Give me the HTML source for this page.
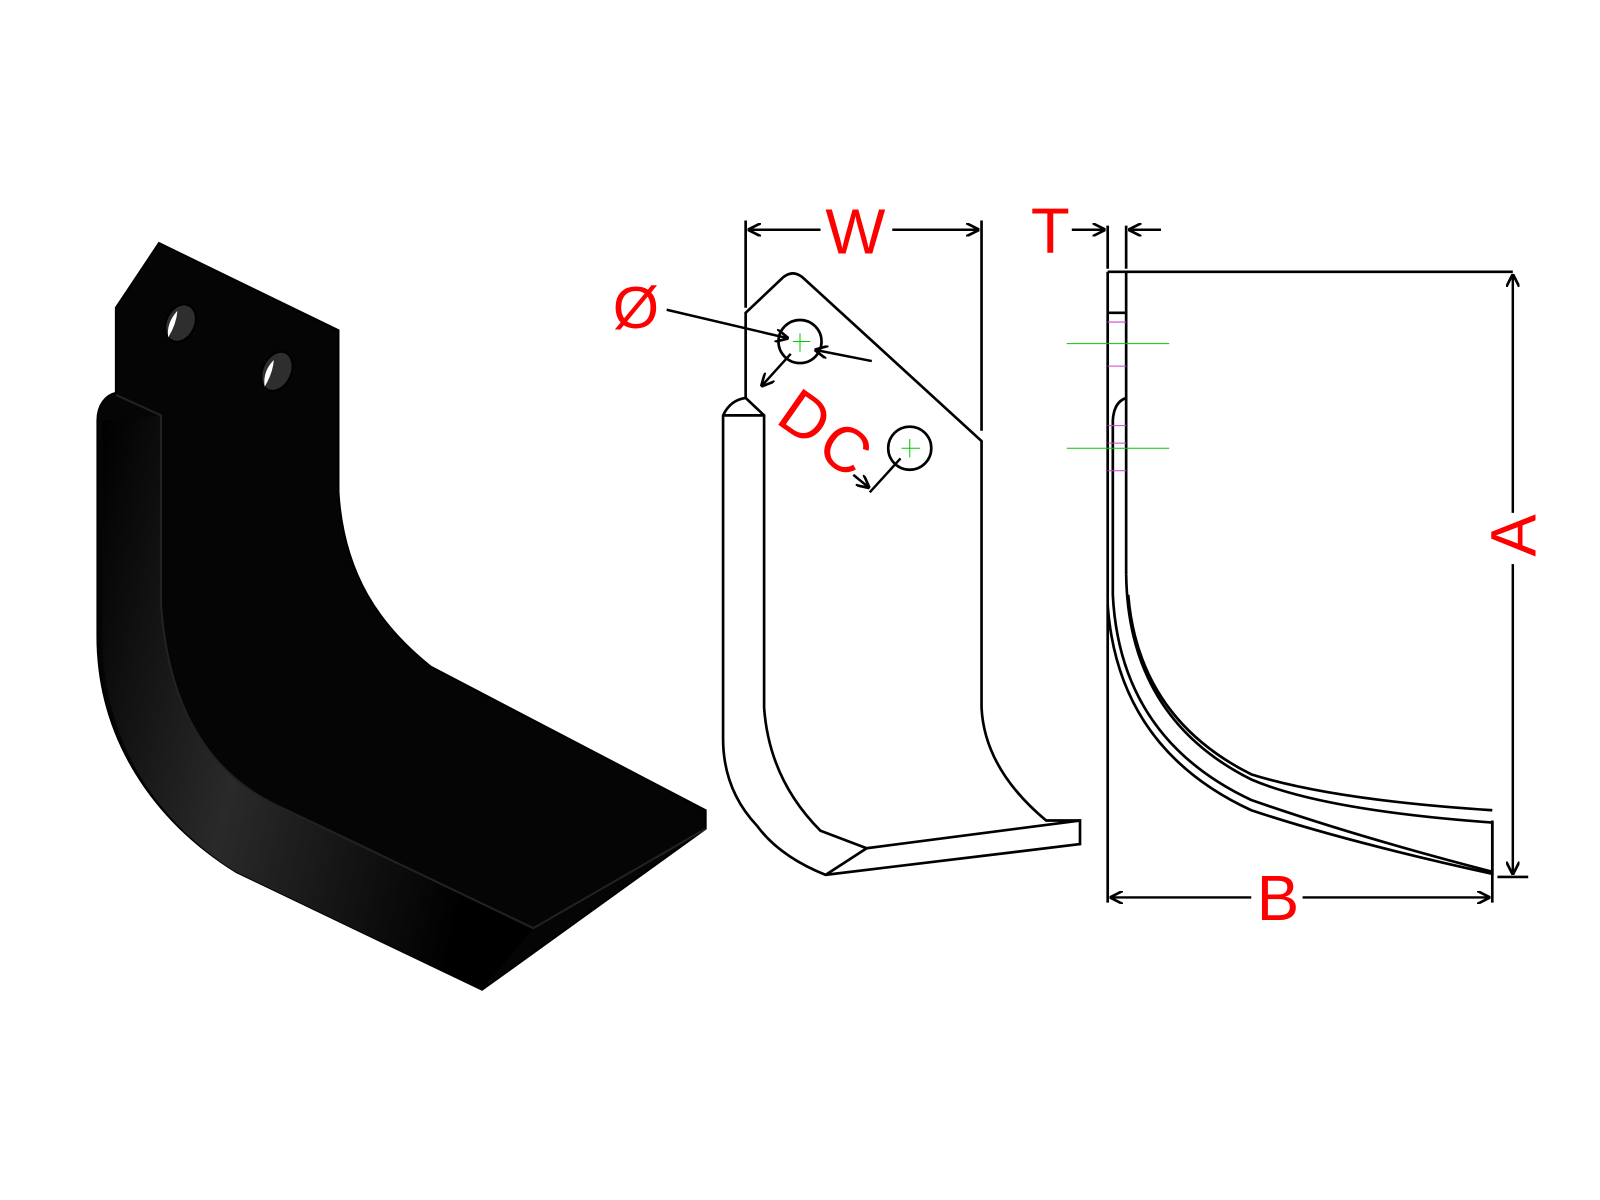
<!DOCTYPE html>
<html><head><meta charset="utf-8"><style>html,body{margin:0;padding:0;background:#fff}svg{display:block}</style></head>
<body>
<svg width="1600" height="1200" viewBox="0 0 1560 1170" xmlns="http://www.w3.org/2000/svg">
<defs>
<linearGradient id="g1" x1="0" y1="0" x2="1" y2="0.3">
<stop offset="0" stop-color="#000"/><stop offset="0.45" stop-color="#2a2a2a"/><stop offset="1" stop-color="#000"/></linearGradient>
<marker id="ar" viewBox="0 0 10 10" refX="10" refY="5" markerWidth="13" markerHeight="13" orient="auto-start-reverse" markerUnits="userSpaceOnUse"><path d="M0,0 L10,5 L0,10" fill="none" stroke="#000" stroke-width="2"/></marker>
</defs>
<!-- black blade -->
<path d="M155,237 L330,322 L330,480 C335,560 370,610 420,650 L688,790 L688,808 L470,965 L230,850 C150,800 95,720 95,620 L95,410 C95,395 103,385 113,383 L113,300 Z" fill="#050505" stroke="#000" stroke-width="2"/>
<path d="M157,405 L157,590 C165,700 210,760 280,790 L520,905 L470,965 L230,850 C150,800 100,720 100,620 L100,410 Z" fill="url(#g1)"/>
<path d="M113,385 L157,405 L157,590 C165,700 210,760 280,790 L520,905 L688,808" fill="none" stroke="#222" stroke-width="2"/>
<g stroke="#000" stroke-width="2">
<ellipse cx="176" cy="315" rx="14" ry="19" transform="rotate(25 176 315)" fill="#2e2e2e"/>
<ellipse cx="270" cy="362" rx="14" ry="20" transform="rotate(25 270 362)" fill="#2e2e2e"/>
</g>
<path d="M173,303 Q162,315 164,329 Q172,316 173,303 Z" fill="#fff"/>
<path d="M267,351 Q256,362 258,377 Q266,364 267,351 Z" fill="#fff"/>
<!-- front view -->
<g fill="none" stroke="#000" stroke-width="2.6">
<path d="M727,388 L727,305 L764,270 Q773,263 782,270 L957,430 L957,690 Q960,750 1020,800 L1053,800 L1053,823 L805,853 Q760,835 738,805 Q705,770 705,720 L705,405 Q712,390 727,388 L745,405 L745,690 Q750,760 800,810 L845,827 L1053,800"/>
<path d="M705,405 L745,405"/>
<path d="M805,853 L845,827"/>
<circle cx="780" cy="333" r="21"/>
<circle cx="887" cy="437" r="21"/>
<path d="M727,300 L727,215 M957,420 L957,215"/>
</g>
<g stroke="#0c0" stroke-width="1"><path d="M773,333 H790 M780,325 V343 M879,437 H897 M887,428 V446"/></g>
<g stroke="#000" stroke-width="2.4" fill="none">
<line x1="800" y1="224" x2="729" y2="224" marker-end="url(#ar)"/>
<line x1="870" y1="224" x2="955" y2="224" marker-end="url(#ar)"/>
<line x1="650" y1="302" x2="769" y2="330" marker-end="url(#ar)"/>
<line x1="850" y1="352" x2="794" y2="341" marker-end="url(#ar)"/>
<line x1="771" y1="345" x2="742" y2="377" marker-end="url(#ar)"/>
<line x1="878" y1="447" x2="848" y2="480"/>
<line x1="832" y1="463" x2="848" y2="476" marker-end="url(#ar)"/>
</g>
<!-- side view -->
<g fill="none" stroke="#000" stroke-width="2.6">
<path d="M1080,265 L1080,880 M1098,265 L1098,560 M1080,265 L1475,265 M1080,305 L1098,305"/>
<path d="M1098,560 Q1100,700 1220,760 Q1290,790 1455,802 L1455,852 Q1310,820 1220,790 Q1090,730 1080,590"/>
<path d="M1098,388 Q1086,392 1085,410 L1085,580 Q1092,720 1220,780 Q1320,815 1455,850"/>
<path d="M1100,580 Q1110,700 1220,755 Q1300,780 1455,790"/>
<path d="M1455,800 L1455,880 M1080,220 L1080,262 M1098,220 L1098,262 M1460,855 L1490,855"/>
</g>
<g stroke="#0c0" stroke-width="1"><path d="M1040,335 H1140 M1040,437 H1140"/></g>
<g stroke="#c4c" stroke-width="1"><path d="M1080,314 H1098 M1080,357 H1098 M1080,415 H1098 M1080,432 H1098 M1080,459 H1098"/></g>
<g stroke="#000" stroke-width="2.4" fill="none">
<line x1="1045" y1="224" x2="1078" y2="224" marker-end="url(#ar)"/>
<line x1="1132" y1="224" x2="1100" y2="224" marker-end="url(#ar)"/>
<line x1="1475" y1="500" x2="1475" y2="267" marker-end="url(#ar)"/>
<line x1="1475" y1="550" x2="1475" y2="853" marker-end="url(#ar)"/>
<line x1="1220" y1="875" x2="1082" y2="875" marker-end="url(#ar)"/>
<line x1="1270" y1="875" x2="1453" y2="875" marker-end="url(#ar)"/>
</g>
<g fill="#f00" font-family="Liberation Sans, sans-serif">
<text x="834" y="247" font-size="62" text-anchor="middle">W</text>
<text x="1024" y="246" font-size="62" text-anchor="middle">T</text>
<text x="620" y="320" font-size="58" text-anchor="middle">Ø</text>
<text x="1246" y="897" font-size="62" text-anchor="middle">B</text>
<text transform="translate(1497,522) rotate(-90)" font-size="62" text-anchor="middle">A</text>
<text transform="translate(773,424) rotate(35)" font-size="62" text-anchor="middle">D</text>
<text transform="translate(812,455) rotate(35)" font-size="62" text-anchor="middle">C</text>
</g>
</svg>
</body></html>
